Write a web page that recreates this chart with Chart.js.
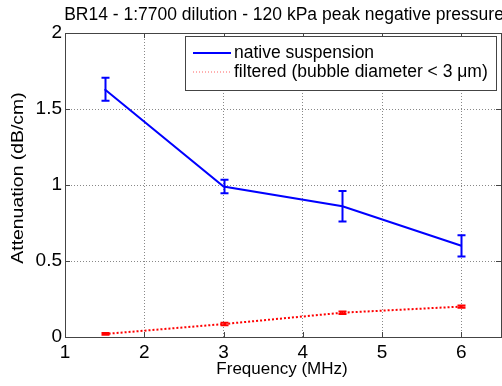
<!DOCTYPE html>
<html>
<head>
<meta charset="utf-8">
<script src="https://cdn.jsdelivr.net/npm/chart.js@4"></script>
<style>
  body { margin: 0; background: #fff; }
  canvas { display: block; }
</style>
</head>
<body>
<canvas id="chart" width="502" height="386"></canvas>
<script>
// values
const freqs = [1.5, 3, 4.5, 6];
const nativeVals = [1.63, 0.99, 0.86, 0.60];
const nativeErr = [0.075, 0.045, 0.10, 0.07];
const filteredVals = [0.02, 0.085, 0.16, 0.20];
const filteredErr = [0.006, 0.008, 0.008, 0.008];

const xTicks = [1, 2, 3, 4, 5, 6];
const yTicks = [0, 0.5, 1, 1.5, 2];

const FONT = "'Liberation Sans', Arial, sans-serif";

function points(xs, ys) {
  return xs.map((x, i) => ({ x: x, y: ys[i] }));
}

// error bars, frame, inward ticks, title, axis labels and legend box
const decor = {
  id: "decor",
  afterDatasetsDraw(chart) {
    const c = chart.ctx;
    const xs = chart.scales.x, ys = chart.scales.y;
    const a = chart.chartArea;

    function errBars(vals, errs, color) {
      c.save();
      c.strokeStyle = color;
      c.lineWidth = 2;
      freqs.forEach((f, i) => {
        const px = Math.round(xs.getPixelForValue(f)) + 0.5;
        const top = ys.getPixelForValue(vals[i] + errs[i]);
        const bot = ys.getPixelForValue(vals[i] - errs[i]);
        c.beginPath();
        c.moveTo(px, top); c.lineTo(px, bot);
        c.moveTo(px - 4, top); c.lineTo(px + 4, top);
        c.moveTo(px - 4, bot); c.lineTo(px + 4, bot);
        c.stroke();
      });
      c.restore();
    }
    errBars(nativeVals, nativeErr, "#0000ff");
    errBars(filteredVals, filteredErr, "#ff0000");

    // frame
    c.save();
    c.strokeStyle = "#444";
    c.lineWidth = 1;
    c.strokeRect(Math.round(a.left) + 0.5, Math.round(a.top) + 0.5,
      Math.round(a.right - a.left), Math.round(a.bottom - a.top));
    c.beginPath();
    xTicks.forEach(t => {
      const px = Math.round(xs.getPixelForValue(t)) + 0.5;
      c.moveTo(px, a.bottom); c.lineTo(px, a.bottom - 5);
      c.moveTo(px, a.top); c.lineTo(px, a.top + 5);
    });
    yTicks.forEach(t => {
      const py = Math.round(ys.getPixelForValue(t)) + 0.5;
      c.moveTo(a.left, py); c.lineTo(a.left + 5, py);
      c.moveTo(a.right, py); c.lineTo(a.right - 5, py);
    });
    c.stroke();

    // title and axis labels
    c.fillStyle = "#000";
    c.textAlign = "center";
    c.textBaseline = "middle";
    c.font = "17.5px " + FONT;
    c.fillText("BR14 - 1:7700 dilution - 120 kPa peak negative pressure", (a.left + a.right) / 2 + 1, 15);
    c.font = "17px " + FONT;
    c.fillText("Frequency (MHz)", 282, 369);
    c.save();
    c.translate(18, 178);
    c.rotate(-Math.PI / 2);
    c.scale(1.14, 1);
    c.fillText("Attenuation (dB/cm)", 0, 0);
    c.restore();

    // legend
    const lx = 185, ly = 36, lw = 311, lh = 54;
    c.fillStyle = "#fff";
    c.fillRect(lx, ly, lw, lh);
    c.strokeStyle = "#444";
    c.strokeRect(lx + 0.5, ly + 0.5, lw, lh);
    c.lineWidth = 2;
    c.strokeStyle = "#0000ff";
    c.beginPath(); c.moveTo(193, 53); c.lineTo(231, 53); c.stroke();
    c.strokeStyle = "#ff6060";
    c.lineWidth = 1;
    c.setLineDash([1, 2]);
    c.beginPath(); c.moveTo(193, 72); c.lineTo(231, 72); c.stroke();
    c.setLineDash([]);
    c.fillStyle = "#000";
    c.textAlign = "left";
    c.font = "17.5px " + FONT;
    c.fillText("native suspension", 234, 53);
    c.fillText("filtered (bubble diameter < 3 \u03bcm)", 234, 72);
    c.restore();
  }
};

new Chart(document.getElementById("chart"), {
  type: "line",
  data: {
    datasets: [
      {
        label: "native suspension",
        data: points(freqs, nativeVals),
        borderColor: "#0000ff",
        borderWidth: 2,
        pointRadius: 0,
        fill: false,
      },
      {
        label: "filtered (bubble diameter < 3 \u03bcm)",
        data: points(freqs, filteredVals),
        borderColor: "#ff0000",
        borderWidth: 2,
        borderDash: [2, 2],
        pointRadius: 0,
        fill: false,
      },
    ],
  },
  options: {
    responsive: false,
    animation: false,
    layout: { padding: { top: 33, right: 1, left: 0, bottom: 0 } },
    plugins: { legend: { display: false }, tooltip: { enabled: false } },
    scales: {
      x: {
        type: "linear",
        min: 1,
        max: 6.5,
        afterBuildTicks: s => { s.ticks = xTicks.map(v => ({ value: v })); },
        afterFit: s => { s.height = 49; },
        grid: { color: "#888", drawTicks: false },
        border: { display: false, dash: [1, 2] },
        ticks: {
          color: "#000",
          font: { family: FONT, size: 19 },
          padding: 4,
          maxRotation: 0,
          callback: v => String(v),
        },
      },
      y: {
        min: 0,
        max: 2,
        afterBuildTicks: s => { s.ticks = yTicks.map(v => ({ value: v })); },
        afterFit: s => { s.width = 65; },
        grid: { color: "#888", drawTicks: false },
        border: { display: false, dash: [1, 2] },
        ticks: {
          color: "#000",
          font: { family: FONT, size: 19 },
          padding: 3,
          callback: v => String(v),
        },
      },
    },
  },
  plugins: [decor],
});
</script>
</body>
</html>
